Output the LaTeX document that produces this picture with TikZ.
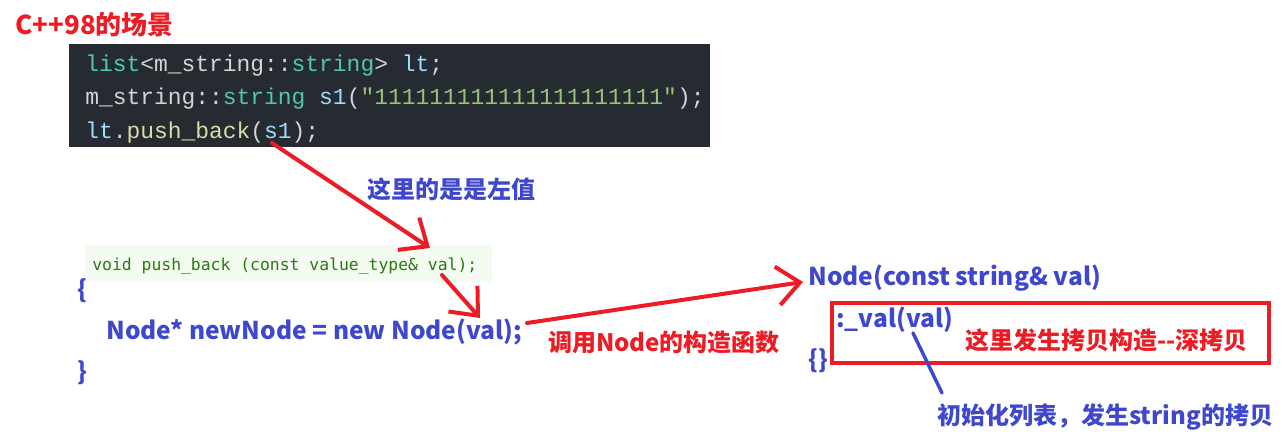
\documentclass[tikz,border=0pt]{standalone}
\usepackage{fontspec}
\usetikzlibrary{positioning, arrows.meta}
\newfontfamily\cjk{Noto Sans CJK SC}
\newfontfamily\codefont{Liberation Mono}
\newfontfamily\declfont{DejaVu Sans Mono}
\definecolor{penred}{HTML}{ED1C24}
\definecolor{penblue}{HTML}{3F48CC}
\definecolor{codebg}{HTML}{262A31}
\definecolor{codeplain}{HTML}{D4D4D4}
\definecolor{codetype}{HTML}{4EC9B0}
\definecolor{codevar}{HTML}{9CDCFE}
\definecolor{codefunc}{HTML}{DCDCAA}
\definecolor{codestr}{HTML}{98C379}
\definecolor{declbg}{HTML}{F4FBF1}
\definecolor{declgreen}{HTML}{2A7A14}
\newcommand\ctype[1]{\textcolor{codetype}{#1}}
\newcommand\cvar[1]{\textcolor{codevar}{#1}}
\newcommand\cfunc[1]{\textcolor{codefunc}{#1}}
\newcommand\cstr[1]{\textcolor{codestr}{#1}}
\tikzstyle{note} = [inner sep=0pt, font=\cjk\bfseries\fontsize{18}{22}\selectfont]
\tikzstyle{rednote} = [note, text=penred]
\tikzstyle{bluenote} = [note, text=penblue]
\tikzstyle{bluecode} = [bluenote, anchor=base west, font=\cjk\bfseries\fontsize{18.4}{22}\selectfont]
\tikzstyle{codeline} = [inner sep=0pt, anchor=base west, text=codeplain, font=\codefont\fontsize{17.2}{20}\selectfont]
\tikzstyle{redarrow} = [draw=penred, line width=3pt, line cap=round, -{Straight Barb[length=17pt, width=29pt]}]

\begin{document}
\begin{tikzpicture}[x=0.75pt, y=-0.75pt]
\useasboundingbox (0,0) rectangle (1288,447);

% Title
\node[rednote, anchor=west, font=\cjk\bfseries\fontsize{19.5}{23}\selectfont] (title) at (15,25) {C++98的场景};

% Code snippet
\node[fill=codebg, anchor=north west, minimum width=480.75pt, minimum height=77.25pt, inner sep=0pt] (code) at (69,44) {};
\node[codeline] (line1) at (85,71) {\ctype{list}<m\_string::\ctype{string}> \cvar{lt};};
\node[codeline] (line2) at (85,104) {m\_string::\ctype{string} \cvar{s1}(\cstr{"111111111111111111111"});};
\node[codeline] (line3) at (85,138) {\cvar{lt}.\cfunc{push\_back}(\cvar{s1});};
\node[bluenote, anchor=west] (lvalnote) at (367,189) {这里的是是左值};

% push_back
\node[fill=declbg, anchor=north west, minimum width=305pt, minimum height=27.75pt, inner sep=0pt] (declbox) at (85,245) {};
\node[inner sep=0pt, anchor=base west, text=declgreen, font=\declfont\fontsize{12.3}{15}\selectfont] (decl) at (92,270) {void push\_back (const value\_type\& val);};
\node[bluecode] (lbrace) at (77,298) {\{};
\node[bluecode] (newnode) at (106,339) {Node* newNode = new Node(val);};
\node[bluecode] (rbrace) at (77,380) {\}};
\node[rednote, anchor=west] (callnote) at (548,342) {调用Node的构造函数};

% Constructor
\node[bluecode] (ctor) at (808,285) {Node(const string\& val)};
\node[draw=penred, line width=3pt, anchor=north west, minimum width=327.75pt, minimum height=45pt, inner sep=0pt] (copybox) at (830,301) {};
\node[bluecode] (init) at (836,327) {:\_val(val)};
\node[bluecode] (body) at (808,368) {\{\}};
\node[rednote, anchor=west] (deepcopy) at (965,340) {这里发生拷贝构造-{}-深拷贝};
\node[bluenote, anchor=west] (initnote) at (937,417) {初始化列表，发生string的拷贝};

% Arrows
\coordinate (s1use) at (272,143);
\coordinate (valdecl) at (430,248);
\coordinate (valfrom) at (442,275);
\coordinate (valnew) at (480,318);
\coordinate (callfrom) at (527,323);
\coordinate (callto) at (803,282);
\coordinate (initfrom) at (913,333);
\coordinate (initto) at (942,393);
\draw[redarrow] (s1use) -- (valdecl);
\draw[redarrow] (valfrom) -- (valnew);
\draw[redarrow] (callfrom) -- (callto);
\draw[penblue, line width=2.6pt, line cap=round] (initfrom) -- (initto);

\end{tikzpicture}
\end{document}
